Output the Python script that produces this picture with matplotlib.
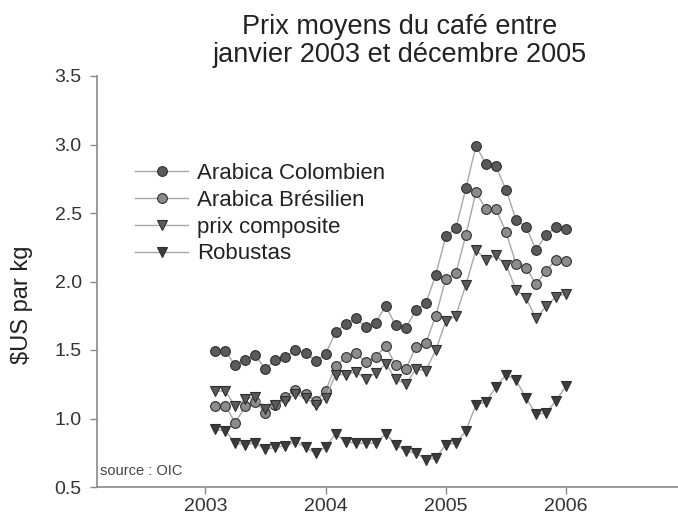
import numpy as np
import matplotlib
matplotlib.use("Agg")
import matplotlib.pyplot as plt

plt.rcParams['font.family'] = ['Liberation Sans', 'DejaVu Sans']

# Prix mensuels ($US par kg), janvier 2003 -> decembre 2005
mois = np.arange(1, 37)
annees = 2003 + mois / 12.0

colombien = [1.49, 1.49, 1.39, 1.43, 1.46, 1.36, 1.43, 1.45, 1.50, 1.48, 1.42, 1.47,
             1.63, 1.69, 1.73, 1.67, 1.70, 1.82, 1.68, 1.66, 1.79, 1.84, 2.05, 2.33,
             2.39, 2.68, 2.99, 2.86, 2.84, 2.67, 2.45, 2.40, 2.23, 2.34, 2.40, 2.38]
bresilien = [1.09, 1.09, 0.97, 1.09, 1.12, 1.04, 1.10, 1.16, 1.21, 1.18, 1.13, 1.20,
             1.38, 1.45, 1.48, 1.41, 1.45, 1.53, 1.39, 1.36, 1.52, 1.55, 1.75, 2.02,
             2.06, 2.34, 2.65, 2.53, 2.53, 2.36, 2.13, 2.10, 1.98, 2.08, 2.16, 2.15]
composite = [1.20, 1.20, 1.09, 1.14, 1.16, 1.07, 1.10, 1.13, 1.18, 1.15, 1.10, 1.15,
             1.32, 1.32, 1.34, 1.29, 1.33, 1.40, 1.29, 1.25, 1.36, 1.35, 1.50, 1.71,
             1.75, 1.975, 2.23, 2.16, 2.19, 2.12, 1.94, 1.88, 1.73, 1.82, 1.89, 1.91]
robustas = [0.92, 0.91, 0.82, 0.81, 0.82, 0.775, 0.79, 0.80, 0.83, 0.79, 0.745, 0.79,
            0.89, 0.83, 0.82, 0.82, 0.82, 0.89, 0.81, 0.76, 0.75, 0.70, 0.71, 0.81,
            0.82, 0.91, 1.10, 1.12, 1.23, 1.32, 1.28, 1.15, 1.03, 1.04, 1.13, 1.24]

yticks = [0.5, 1.0, 1.5, 2.0, 2.5, 3.0, 3.5]
xticks = [2003, 2004, 2005, 2006]

fig = plt.figure(figsize=(6.78, 5.19), dpi=100)
ax = fig.add_axes([97/678, 32/519, 1 - 97/678, (487-76)/519])

ligne = '#a8a8a8'
bord = '#2e2e2e'
ms = 7
ax.plot(annees, colombien, '-o', color=ligne, lw=1, mfc='#5a5a5a', mec=bord, mew=0.8, ms=ms,
        label='Arabica Colombien')
ax.plot(annees, bresilien, '-o', color=ligne, lw=1, mfc='#8c8c8c', mec=bord, mew=0.8, ms=ms,
        label='Arabica Brésilien')
ax.plot(annees, composite, '-v', color=ligne, lw=1, mfc='#5a5a5a', mec=bord, mew=0.8, ms=ms,
        label='prix composite')
ax.plot(annees, robustas, '-v', color=ligne, lw=1, mfc='#3c3c3c', mec=bord, mew=0.8, ms=ms,
        label='Robustas')

ax.set_ylim(0.5, 3.5)
ax.set_xlim(2002.1, 2006.93)
ax.set_yticks(yticks)
ax.set_yticklabels([f"{v:.1f}" for v in yticks])
ax.set_xticks(xticks)
ax.set_xticklabels([str(a) for a in xticks])
ax.tick_params(labelsize=14, colors='#333333', length=5, width=1)
ax.tick_params(axis='x', pad=3)
ax.tick_params(axis='y', pad=6)

for s in ['top', 'right']:
    ax.spines[s].set_visible(False)
for s in ['left', 'bottom']:
    ax.spines[s].set_color('#8a8a8a')
    ax.spines[s].set_linewidth(1.2)
ax.tick_params(color='#8a8a8a')

fig.text(22/678, 1 - 305/519, r'\$US par kg', rotation=90, fontsize=17, color='#222222',
         ha='center', va='center')

leg = ax.legend(loc='upper left', bbox_to_anchor=(124/678, 1 - 152/519),
                bbox_transform=fig.transFigure, frameon=False, fontsize=16,
                handlelength=2.4, handletextpad=0.4, labelspacing=0.26, borderpad=0)
for t in leg.get_texts():
    t.set_color('#222222')

fig.text(100/678, 1 - 471/519, 'source : OIC', fontsize=10.5,
         color='#444444', va='center', ha='left')

fig.text(400/678, 1 - 41/519, 'Prix moyens du café entre\njanvier 2003 et décembre 2005',
         ha='center', va='center', fontsize=19.5, color='#222222', linespacing=1.1)

fig.savefig('out.png', dpi=100)
